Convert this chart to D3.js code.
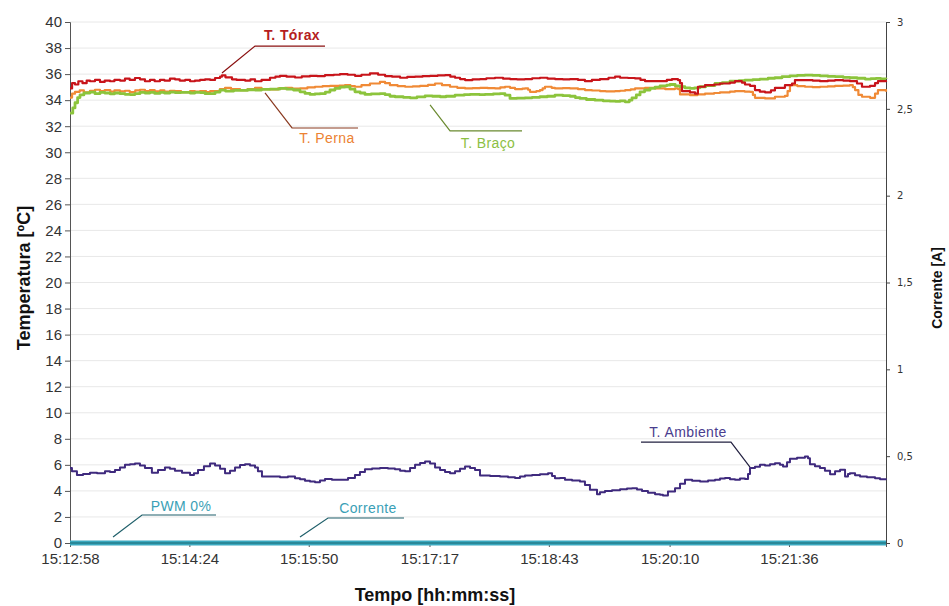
<!DOCTYPE html>
<html>
<head>
<meta charset="utf-8">
<script src="https://cdn.jsdelivr.net/npm/d3@7"></script>
<style>
  html, body { margin: 0; padding: 0; background: #fff; }
  svg { display: block; font-family: "Liberation Sans", Arial, sans-serif; }
</style>
</head>
<body>
<svg id="chart" width="949" height="606"></svg>
<script>
// ---------- DATA (time in seconds after 15:12:58, value) ----------
const startTime = "15:12:58";
const durationSec = 587.9;
const xTickLabels = ["15:12:58","15:14:24","15:15:50","15:17:17","15:18:43","15:20:10","15:21:36"];
const leftTicks = d3.range(0, 41, 2);
const rightTicks = [0, 0.5, 1, 1.5, 2, 2.5, 3];

const toraxData = [[0,34.9],[1.5,35.3],[3.6,35.2],[6,35.45],[9,35.3],[12,35.5],[14.4,35.45],[18,35.55],[21.6,35.4],[25,35.5],[28.8,35.45],[32,35.55],[36,35.5],[39.6,35.65],[43,35.55],[46.8,35.7],[50.4,35.6],[54,35.45],[57.6,35.55],[61,35.45],[64.8,35.55],[68,35.5],[72,35.65],[75.6,35.6],[79,35.5],[83,35.55],[86.5,35.45],[90,35.5],[93.7,35.55],[97.3,35.6],[100.9,35.55],[104.5,35.7],[108.1,35.8],[109.5,35.9],[112,35.75],[116.7,35.6],[120,35.55],[126.1,35.5],[130,35.6],[133.3,35.45],[138,35.55],[144.1,35.72],[148,35.8],[151.3,35.87],[156,35.8],[162.1,35.74],[167,35.82],[172.9,35.87],[178,35.85],[183.7,35.92],[190,35.95],[194.5,36.0],[200,35.95],[205.3,35.87],[210,35.95],[216.1,36.05],[222,35.95],[227,35.85],[232,35.8],[237.8,35.72],[243,35.78],[248.6,35.8],[254,35.85],[259.4,35.87],[265,35.9],[270.2,35.92],[274,35.8],[277.4,35.72],[281,35.62],[284.6,35.54],[290,35.6],[295.4,35.62],[300,35.68],[306.2,35.72],[312,35.65],[317,35.62],[322,35.6],[327.8,35.62],[333,35.68],[338.6,35.72],[344,35.66],[349.4,35.62],[355,35.6],[360.2,35.62],[366,35.55],[371,35.46],[376,35.55],[381.8,35.62],[388,35.72],[392.7,35.8],[396.3,35.72],[402,35.7],[407.1,35.67],[411,35.55],[414.3,35.46],[420,35.46],[425.1,35.46],[430,35.55],[433.7,35.62],[438,35.54],[439.5,35.3],[440.9,34.7],[446.7,34.6],[450.3,34.5],[452.4,35.03],[457.5,35.15],[464,35.2],[468.3,35.28],[475.5,35.35],[479.1,35.46],[484,35.35],[486.3,35.2],[489.9,35.1],[493.5,34.77],[497,34.65],[500.7,34.6],[505,34.75],[507.9,34.95],[515.1,35.15],[520.2,35.28],[522.3,35.54],[529.5,35.54],[535,35.5],[540.3,35.46],[546,35.5],[551.2,35.54],[557,35.5],[561.9,35.46],[567,35.28],[570.6,35.03],[576.4,35.1],[580,35.3],[582.1,35.46],[587.9,35.4]];

const pernaData = [[0,34.2],[1.5,34.5],[3.6,34.64],[7,34.75],[10,34.6],[14.4,34.72],[18,34.8],[21.6,34.7],[25,34.78],[29,34.65],[32,34.75],[36,34.68],[39.6,34.72],[43,34.62],[47,34.75],[50.4,34.8],[54,34.7],[57.6,34.77],[61,34.68],[65,34.75],[68,34.66],[72,34.72],[75.6,34.7],[80,34.62],[86.5,34.7],[90,34.65],[93.7,34.7],[98,34.62],[101,34.7],[104.5,34.7],[108,34.85],[111.7,34.95],[116,34.85],[122.5,34.77],[128,34.85],[133.3,34.95],[138,34.85],[144.1,34.82],[150,34.9],[154.9,34.95],[160,34.88],[165.7,34.9],[171,34.98],[176.5,35.03],[182,35.08],[187.3,35.1],[194,35.12],[198.1,35.15],[202,35.08],[205.3,35.03],[210,35.15],[216.1,35.28],[223.3,35.4],[227,35.3],[230.5,35.15],[236,35.08],[241.4,35.03],[247,35.06],[252.2,35.1],[258,35.18],[263,35.28],[268,35.15],[273.8,35.03],[279,34.95],[284.6,34.9],[290,34.93],[295.4,34.95],[301,34.92],[306.2,34.9],[310,34.98],[313.4,35.03],[317,34.95],[320.6,34.85],[326,34.88],[327.8,34.9],[330,34.8],[331.4,34.64],[336,34.7],[338.6,34.77],[340.5,34.9],[342.2,35.03],[347,34.95],[349.4,34.9],[355,34.92],[360.2,34.9],[366,34.84],[371,34.77],[376,34.74],[381.8,34.7],[386,34.68],[392.7,34.7],[396.3,34.72],[400,34.77],[404,34.82],[407.1,34.9],[414.3,34.95],[421.5,34.9],[428.7,34.85],[435.9,34.9],[438,34.85],[439.5,34.44],[446.7,34.38],[452,34.44],[457.5,34.5],[464,34.55],[468.3,34.6],[475.5,34.65],[479.1,34.7],[486,34.66],[489.9,34.64],[492,34.4],[493.5,34.18],[500.7,34.13],[507.9,34.26],[515.1,34.33],[517,34.7],[518.7,35.15],[524,35.08],[529.5,35.03],[535,35.0],[540.3,35.03],[546,35.06],[551.2,35.1],[557,35.12],[561.9,35.15],[564,35.0],[565.6,34.77],[568,34.4],[570.6,34.26],[576.4,34.18],[580,34.5],[582.1,34.77],[587.9,34.64]];

const bracoData = [[0,33.0],[2,33.4],[3.6,33.8],[5.5,34.2],[7.2,34.4],[10,34.55],[14.4,34.62],[18,34.5],[21.6,34.6],[25,34.55],[29,34.48],[32,34.55],[36,34.5],[39.6,34.45],[43.2,34.43],[46.8,34.5],[50.4,34.6],[54,34.55],[57.6,34.6],[61,34.52],[64.8,34.6],[68,34.55],[72,34.62],[75.6,34.58],[80,34.6],[86.5,34.55],[90,34.6],[93.7,34.58],[97.3,34.5],[100.9,34.5],[104.5,34.62],[108.1,34.77],[112,34.7],[118,34.75],[122.5,34.75],[128,34.8],[133.3,34.78],[138,34.82],[144.1,34.85],[151.3,34.9],[156,34.85],[161,34.78],[165.7,34.64],[169.3,34.52],[172.9,34.44],[176.5,34.48],[180.1,34.5],[184,34.62],[187.3,34.78],[190.9,34.9],[194.5,35.0],[198.1,35.03],[201.7,34.85],[205.3,34.64],[209,34.55],[212.5,34.44],[217,34.48],[223.3,34.5],[227,34.42],[230.5,34.3],[234.1,34.26],[240,34.22],[245,34.18],[250,34.25],[255.8,34.33],[261,34.3],[266.6,34.26],[271,34.3],[277.4,34.38],[284,34.42],[288.2,34.44],[295,34.42],[299,34.44],[305,34.48],[309.8,34.5],[313.4,34.38],[317,34.13],[322,34.15],[327.8,34.18],[333,34.22],[338.6,34.26],[344,34.3],[349.4,34.38],[355,34.34],[360.2,34.3],[364,34.2],[367.4,34.13],[372,34.05],[378.2,34.0],[384,33.95],[389,33.92],[393,33.9],[396.3,33.95],[399.9,33.87],[403,34.0],[404.9,34.18],[408,34.4],[410.7,34.64],[414,34.78],[417.9,34.9],[421.5,35.0],[425.1,35.1],[430,35.15],[432.3,35.2],[436,35.1],[439.5,35.03],[443,34.95],[446.7,34.9],[450,34.95],[453.9,35.03],[458,35.12],[464.7,35.28],[470,35.35],[475.5,35.46],[482,35.5],[486.3,35.54],[492,35.58],[497.1,35.62],[503,35.68],[507.9,35.72],[513,35.8],[518.7,35.87],[524,35.9],[529.5,35.92],[535,35.9],[540.3,35.87],[546,35.82],[551.2,35.8],[557,35.75],[561.9,35.72],[567,35.68],[572.8,35.62],[577,35.65],[580.7,35.67],[584,35.64],[587.9,35.62]];

const ambienteData = [[0,5.75],[1.4,5.5],[5,5.23],[9.4,5.3],[14.4,5.4],[19.5,5.35],[25.2,5.5],[28.8,5.45],[32.4,5.6],[36,5.8],[39.6,6.0],[43.2,6.05],[46.8,6.1],[50.4,5.95],[54,5.75],[59,5.4],[63.4,5.6],[68.4,5.8],[72,5.7],[75.6,5.55],[80.7,5.4],[86.5,5.23],[89.3,5.35],[92.2,5.6],[96.5,5.9],[100.9,6.1],[104.5,5.95],[108.1,5.7],[111.7,5.35],[115.3,5.55],[118.9,5.8],[122.5,5.98],[126.1,6.05],[129.7,5.95],[133.3,5.8],[135.4,5.5],[138.3,5.1],[144.1,5.1],[151.3,5.05],[157,5.1],[162.1,4.97],[165.7,4.9],[169.3,4.77],[172.9,4.72],[176.5,4.67],[180.1,4.8],[183.7,4.92],[188.7,4.85],[194.5,4.85],[200.3,5.0],[205.3,5.23],[208.9,5.45],[212.5,5.67],[217.6,5.72],[223.3,5.75],[229.1,5.72],[234.1,5.67],[237.8,5.55],[241.4,5.5],[245,5.75],[248.6,6.0],[252.2,6.15],[255.8,6.25],[259.4,6.1],[263,5.8],[266.6,5.6],[270.2,5.45],[273.8,5.35],[277.4,5.5],[281,5.7],[284.6,5.87],[288.2,5.75],[291.8,5.6],[295.4,5.18],[302.6,5.15],[309.8,5.1],[315.6,5.05],[320.6,5.0],[324.2,5.1],[327.8,5.18],[332.9,5.22],[338.6,5.28],[344.4,5.36],[347.3,5.15],[349.4,4.97],[353,5.0],[356.6,4.85],[361.7,4.8],[367.4,4.72],[371,4.45],[374.6,4.08],[379.7,3.75],[381.8,3.9],[385.4,4.0],[390.5,4.05],[396.3,4.13],[401.3,4.18],[404.9,4.2],[408.5,4.1],[412.1,4.0],[416.4,3.85],[421.5,3.75],[425.1,3.7],[427.2,3.64],[430.8,3.95],[435.9,4.2],[439.5,4.55],[443.1,4.85],[448.2,4.78],[453.9,4.72],[459.7,4.8],[464.7,4.85],[468.3,4.95],[471.9,5.0],[475.5,4.9],[479.1,4.85],[482.7,4.95],[486.3,4.92],[488.5,5.3],[489.9,5.75],[493.5,5.85],[497.1,6.0],[500.7,5.95],[504.3,6.05],[507.9,6.13],[511.5,6.0],[513.7,5.87],[516.6,6.2],[518.7,6.46],[523.8,6.55],[529.5,6.64],[531.7,6.5],[533.1,6.05],[536.7,5.9],[540.3,5.75],[543.9,5.55],[547.6,5.28],[551.2,5.5],[554.8,5.62],[558.4,5.1],[560.5,5.3],[561.9,5.36],[565.6,5.2],[569.2,5.1],[574.2,5.05],[580,4.97],[583.6,4.9],[587.9,4.85]];

const pwmData = [[0,0],[587.9,0]];        // PWM 0 %, left axis
const correnteData = [[0,0],[587.9,0]];   // current [A], right axis

// label anchors: [time, value] where the leader touches the series
const labelNames = ["T. Tórax","T. Perna","T. Braço","T. Ambiente","PWM 0%","Corrente"];
const labelAnchors = [[109.5,36.08],[140.5,34.55],[259.4,33.63],[489.9,5.83],[31,0.46],[165.7,0.46]];

// ---------- LAYOUT ----------
const W = 949, H = 606;
const M = {left: 70, right: 63, top: 22, bottom: 63};
const svg = d3.select("#chart");
const parse = d3.timeParse("%H:%M:%S");
const t0 = parse(startTime);
const toDate = s => new Date(+t0 + s * 1000);

const x = d3.scaleTime().domain([t0, toDate(durationSec)]).range([M.left, W - M.right]);
const yL = d3.scaleLinear().domain([0, 40]).range([H - M.bottom, M.top]);
const yR = d3.scaleLinear().domain([0, 3]).range([H - M.bottom, M.top]);

const fontTick = "Liberation Sans, Arial, sans-serif";

// gridlines
svg.append("g").selectAll("line").data(leftTicks.filter(d => d > 0)).join("line")
  .attr("x1", M.left).attr("x2", W - M.right)
  .attr("y1", d => yL(d)).attr("y2", d => yL(d))
  .attr("stroke", "#e8e8e8").attr("stroke-width", 1);

// left axis
const gL = svg.append("g").attr("transform", `translate(${M.left},0)`)
  .call(d3.axisLeft(yL).tickValues(leftTicks).tickSize(5).tickPadding(3).tickFormat(d3.format("d")));
gL.select(".domain").attr("stroke", "#555");
gL.selectAll(".tick line").attr("stroke", "#555");
gL.selectAll("text").attr("font-size", 15).attr("fill", "#333").attr("font-family", fontTick);

// right axis
const gR = svg.append("g").attr("transform", `translate(${W - M.right},0)`)
  .call(d3.axisRight(yR).tickValues(rightTicks).tickSize(4).tickPadding(7)
    .tickFormat(d => String(d).replace(".", ",")));
gR.select(".domain").attr("stroke", "#444");
gR.selectAll(".tick line").attr("stroke", "#444");
gR.selectAll("text").attr("font-size", 10).attr("fill", "#333")
  .attr("font-family", "DejaVu Sans, Verdana, sans-serif");

// bottom axis
const xTicks = xTickLabels.map(parse);
const gX = svg.append("g").attr("transform", `translate(0,${H - M.bottom})`)
  .call(d3.axisBottom(x).tickValues(xTicks).tickSize(4).tickPadding(6).tickFormat(d3.timeFormat("%H:%M:%S")));
gX.select(".domain").attr("stroke", "#555");
gX.selectAll(".tick line").attr("stroke", "#555");
gX.selectAll("text").attr("font-size", 15).attr("fill", "#333").attr("font-family", fontTick);

// lines
const lineL = d3.line().curve(d3.curveStepAfter).x(d => x(toDate(d[0]))).y(d => yL(d[1]));
const lineR = d3.line().x(d => x(toDate(d[0]))).y(d => yR(d[1]));

const series = [
  {data: pernaData, color: "#f08a36", w: 2.2, gen: lineL},
  {data: bracoData, color: "#8cc43c", w: 2.8, gen: lineL},
  {data: toraxData, color: "#c8141a", w: 2.2, gen: lineL},
  {data: ambienteData, color: "#3f2a7e", w: 2, gen: lineL},
  {data: pwmData, color: "#3aa9c0", w: 5, gen: lineL},
  {data: correnteData, color: "#2a8898", w: 2, gen: lineR}
];
svg.append("g").selectAll("path").data(series).join("path")
  .attr("d", d => d.gen(d.data))
  .attr("fill", "none").attr("stroke", d => d.color).attr("stroke-width", d => d.w)
  .attr("stroke-linejoin", "round");

// annotations
const labelStyle = [
  {dx: 33, dy: -27, len: 70, tdy: -6, color: "#b51d1d", line: "#8a1010", bold: true, axis: yL},
  {dx: 27, dy: 35, len: 66, tdy: 15, color: "#ec8232", line: "#8a3a20", bold: false, axis: yL},
  {dx: 20, dy: 26, len: 72, tdy: 17, color: "#8cc043", line: "#6a8a30", bold: false, axis: yL},
  {dx: -19, dy: -25, len: -90, tdy: -5, color: "#4a3d8e", line: "#222040", bold: false, axis: yL},
  {dx: 29, dy: -22, len: 74, tdy: -4, color: "#3a9fb6", line: "#1f5f6a", bold: false, axis: yL},
  {dx: 28, dy: -19, len: 76, tdy: -5, color: "#3a9fb6", line: "#1f5f6a", bold: false, axis: yL}
];
const ann = svg.append("g");
labelNames.forEach((name, i) => {
  const s = labelStyle[i];
  const px = x(toDate(labelAnchors[i][0])), py = s.axis(labelAnchors[i][1]);
  const ex = px + s.dx, ey = py + s.dy;
  ann.append("polyline")
    .attr("points", `${px},${py} ${ex},${ey} ${ex + s.len},${ey}`)
    .attr("fill", "none").attr("stroke", s.line).attr("stroke-width", 1.2);
  ann.append("text")
    .attr("x", ex + s.len / 2 + 2).attr("y", ey + s.tdy)
    .attr("text-anchor", "middle")
    .attr("font-size", 14).attr("letter-spacing", 0.4)
    .attr("font-family", fontTick)
    .attr("font-weight", s.bold ? "bold" : "normal")
    .attr("fill", s.color).text(name);
});

// axis titles
svg.append("text")
  .attr("transform", `translate(30,278) rotate(-90)`)
  .attr("text-anchor", "middle").attr("font-size", 18).attr("font-weight", "bold")
  .attr("fill", "#111").attr("font-family", fontTick)
  .text("Temperatura [ºC]");
svg.append("text")
  .attr("transform", `translate(942,288) rotate(-90)`)
  .attr("text-anchor", "middle").attr("font-size", 14).attr("font-weight", "bold")
  .attr("fill", "#111").attr("font-family", fontTick)
  .text("Corrente [A]");
svg.append("text")
  .attr("x", 435).attr("y", 601)
  .attr("text-anchor", "middle").attr("font-size", 18).attr("font-weight", "bold")
  .attr("fill", "#111").attr("font-family", fontTick)
  .text("Tempo [hh:mm:ss]");
</script>
</body>
</html>
